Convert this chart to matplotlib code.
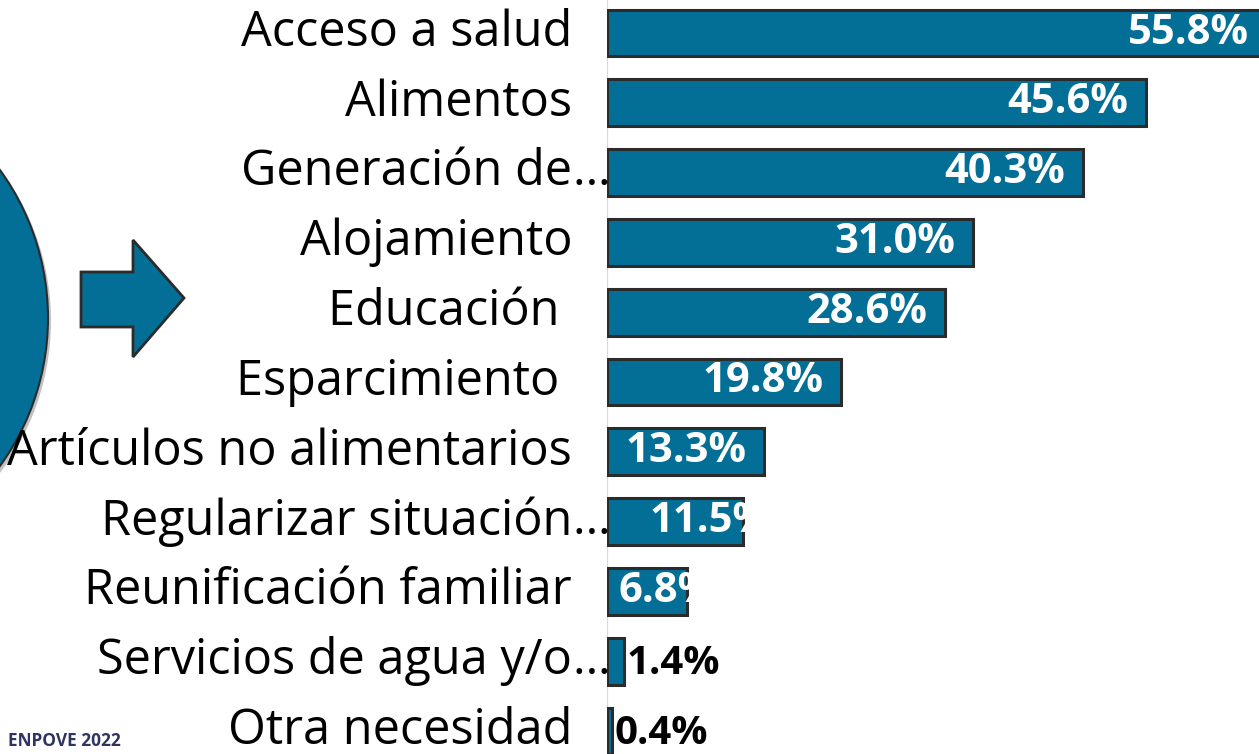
import matplotlib.pyplot as plt
from matplotlib.patches import Circle, Polygon
from matplotlib.transforms import offset_copy

plt.rcParams['font.family'] = ['Open Sans', 'DejaVu Sans']

categorias = ["Acceso a salud", "Alimentos", "Generación de…", "Alojamiento",
              "Educación ", "Esparcimiento ", "Artículos no alimentarios",
              "Regularizar situación…", "Reunificación familiar",
              "Servicios de agua y/o…", "Otra necesidad"]
valores = [55.8, 45.6, 40.3, 31.0, 28.6, 19.8, 13.3, 11.5, 6.8, 1.4, 0.4]

azul = '#036f97'
borde = '#2b2b2b'

W, H = 1259, 754
fig = plt.figure(figsize=(W / 100, H / 100), dpi=100)
ax_left = 607
ax = fig.add_axes([ax_left / W, 0, 1 - ax_left / W, 1])

pos = list(range(len(valores)))
ax.barh(pos, valores, height=0.67, color=azul, edgecolor=borde, linewidth=2.2, zorder=2)
ax.set_xlim(0, (W - ax_left) / 11.82)
ax.set_ylim(10.33, -0.473)
ax.axis('off')
ax.axvline(0, color='#d9d9d9', lw=1.6, zorder=1)

# etiquetas de categorías
base = offset_copy(ax.get_yaxis_transform(), fig=fig, x=-35 * 0.72, y=0, units='points')
for p, c in zip(pos, categorias):
    if c.endswith('…'):
        ax.text(0, p, c[:-1], transform=base, ha='right', va='center', fontsize=35, clip_on=False)
        ax.text(0, p, '…', transform=base, ha='left', va='center', fontsize=35, clip_on=False)
    else:
        ax.text(0, p, c, transform=base, ha='right', va='center', fontsize=35, clip_on=False)

# etiquetas de valores
for p, v in zip(pos, valores):
    txt = f"{v:.1f}%"
    if v >= 13:
        ax.annotate(txt, (v, p), xytext=(-18 * 0.72, 0), textcoords='offset points',
                    ha='right', va='center', fontsize=30, fontweight='bold', color='white',
                    annotation_clip=False)
    elif v >= 5:
        ax.annotate(txt, (v, p), xytext=(28 * 0.72, 0), textcoords='offset points',
                    ha='right', va='center', fontsize=30, fontweight='bold', color='white',
                    annotation_clip=False)
    else:
        ax.annotate(txt, (v, p), xytext=(2, -2), textcoords='offset points',
                    ha='left', va='center', fontsize=29, fontweight='bold', color='black',
                    annotation_clip=False)

# decoración izquierda: círculo y flecha
def fx(x):
    return x / W

def fy(y):
    return 1 - y / H

sombra = Circle((-201 / 100, (H - 321) / 100), 252 / 100, transform=fig.dpi_scale_trans,
                facecolor='#9a9a9a', edgecolor='none', alpha=0.6, zorder=0)
fig.add_artist(sombra)
circ = Circle((-204 / 100, (H - 318) / 100), 252 / 100, transform=fig.dpi_scale_trans,
              facecolor=azul, edgecolor=borde, lw=1.5, zorder=0)
fig.add_artist(circ)

flecha = [(81, 272), (133, 272), (133, 240), (184, 298), (133, 357), (133, 327), (81, 327)]
fig.add_artist(Polygon([(fx(x), fy(y)) for x, y in flecha], closed=True,
                       transform=fig.transFigure, facecolor=azul, edgecolor=borde, lw=2))

fig.text(8 / W, fy(746), "ENPOVE 2022", fontsize=12.4, fontweight='bold',
         color='#2f3462', ha='left', va='baseline')

fig.savefig("out.png", dpi=100)
